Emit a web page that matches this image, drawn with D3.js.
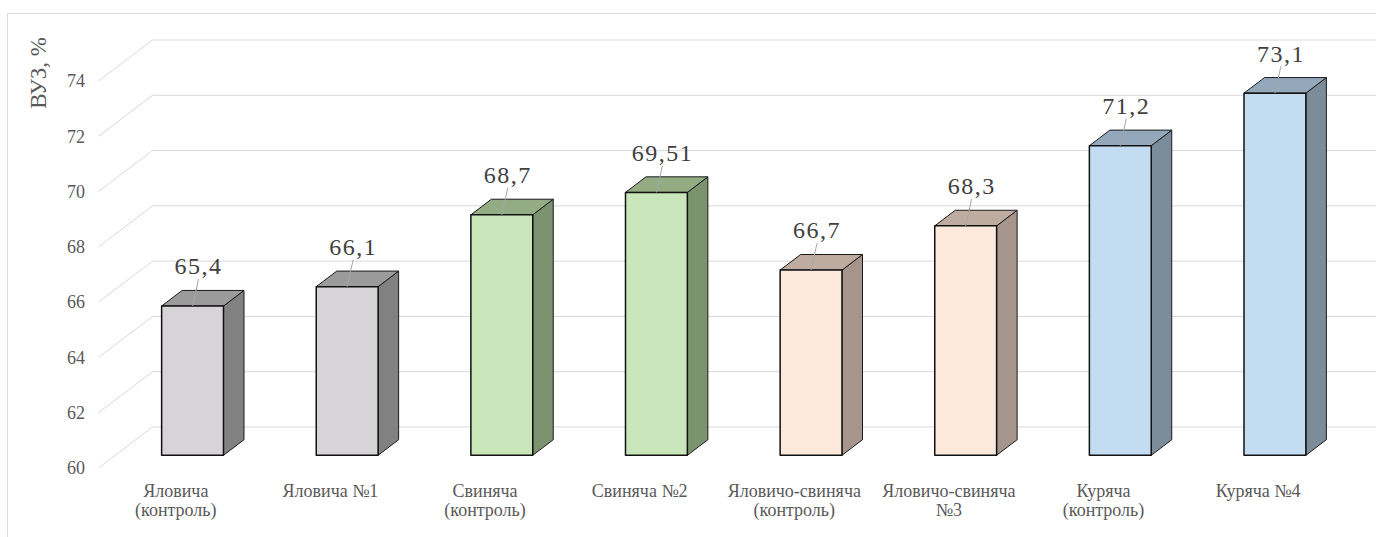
<!DOCTYPE html>
<html>
<head>
<meta charset="utf-8">
<script src="https://cdn.jsdelivr.net/npm/d3@7/dist/d3.min.js"></script>
<style>
  html, body { margin: 0; padding: 0; background: #ffffff; }
  svg { display: block; }
</style>
</head>
<body>
<svg id="chart" width="1376" height="537" font-family="Liberation Serif"></svg>
<script>
// ---- data ----
const categories = [
  ["Яловича", "(контроль)"],
  ["Яловича №1"],
  ["Свиняча", "(контроль)"],
  ["Свиняча №2"],
  ["Яловичо-свиняча", "(контроль)"],
  ["Яловичо-свиняча", "№3"],
  ["Куряча", "(контроль)"],
  ["Куряча №4"]
];
const values = [65.4, 66.1, 68.7, 69.51, 66.7, 68.3, 71.2, 73.1];
const valueLabels = ["65,4", "66,1", "68,7", "69,51", "66,7", "68,3", "71,2", "73,1"];
const groups = ["grey", "grey", "green", "green", "peach", "peach", "blue", "blue"];
const yTicks = [60, 62, 64, 66, 68, 70, 72, 74];
const axisTitle = "ВУЗ, %";

// ---- styles ----
const FONT = "Liberation Serif";
const palette = {
  grey:  { front: "#d6d4d6", top: "#9b9b9b", side: "#818181" },
  green: { front: "#c8e6b9", top: "#93ac84", side: "#7c9370" },
  peach: { front: "#fde9dc", top: "#bfaca1", side: "#a6958c" },
  blue:  { front: "#c4dcf2", top: "#94a8bb", side: "#7d8c9b" }
};

const svg = d3.select("#chart");

// front plane geometry + depth projection
const depthDX = 54, depthDY = -41;
const x = d3.scaleBand().domain(d3.range(categories.length)).range([98.5, 1335.5]).padding(0);
const y = d3.scaleLinear().domain([60, 74]).range([468, 81]);
const P = (xf, v, d) => [xf + depthDX * d, y(v) + depthDY * d];
const d0 = 0.31, d1 = 0.69;
const halfW = x.bandwidth() * 0.2;

// chart area border
svg.append("rect")
  .attr("x", 7.5).attr("y", 13.5).attr("width", 1400).attr("height", 600)
  .attr("fill", "none").attr("stroke", "#d9d9d9").attr("stroke-width", 1);

// gridlines: side wall diagonal + back wall horizontal
const grid = svg.append("g").attr("stroke", "#d9d9d9").attr("stroke-width", 1).attr("fill", "none");
yTicks.forEach(t => {
  const a = P(x.range()[0], t, 0), b = P(x.range()[0], t, 1), c = P(x.range()[1], t, 1);
  grid.append("path").attr("d", `M${a[0]},${a[1]}L${b[0]},${b[1]}L${c[0]},${c[1]}`);
});

// y axis tick labels
const yAxis = d3.axisLeft(y).tickValues(yTicks).tickSize(0).tickPadding(0).tickFormat(d3.format("d"));
const gy = svg.append("g").attr("transform", `translate(85,0)`).call(yAxis)
  .attr("font-family", FONT).attr("font-size", 18);
gy.select(".domain").remove();
gy.selectAll("text").attr("fill", "#595959").attr("font-family", FONT).attr("font-size", 18);

// axis title
svg.append("text")
  .attr("transform", "translate(46,73) rotate(-90)")
  .attr("text-anchor", "middle")
  .attr("fill", "#595959")
  .attr("font-family", FONT)
  .attr("font-size", 23)
  .text(axisTitle);

// bars
const poly = pts => "M" + pts.map(p => p.join(",")).join("L") + "Z";
const bars = svg.append("g");
values.forEach((v, i) => {
  const c = x(i) + x.bandwidth() / 2;
  const col = palette[groups[i]];
  const l = c - halfW, r = c + halfW;
  bars.append("path")
    .attr("d", poly([P(r, v, d0), P(r, v, d1), P(r, 60, d1), P(r, 60, d0)]))
    .attr("fill", col.side).attr("stroke", "#1a1a1a").attr("stroke-width", 1).attr("stroke-linejoin", "round");
  bars.append("path")
    .attr("d", poly([P(l, v, d0), P(r, v, d0), P(r, v, d1), P(l, v, d1)]))
    .attr("fill", col.top).attr("stroke", "#1a1a1a").attr("stroke-width", 1).attr("stroke-linejoin", "round");
  bars.append("path")
    .attr("d", poly([P(l, 60, d0), P(r, 60, d0), P(r, v, d0), P(l, v, d0)]))
    .attr("fill", col.front).attr("stroke", "#111").attr("stroke-width", 1.5).attr("stroke-linejoin", "round");
});

// value labels with leader lines
const labels = svg.append("g");
values.forEach((v, i) => {
  const c = x(i) + x.bandwidth() / 2;
  const top = P(c, v, d0);
  const lx = top[0] + 6, ly = top[1] - 40;
  labels.append("line")
    .attr("x1", lx).attr("y1", ly + 13)
    .attr("x2", top[0]).attr("y2", top[1])
    .attr("stroke", "#a6a6a6").attr("stroke-width", 1);
  labels.append("text")
    .attr("x", lx).attr("y", ly)
    .attr("dy", "0.35em")
    .attr("text-anchor", "middle")
    .attr("fill", "#404040")
    .attr("font-family", FONT)
    .attr("font-size", 24)
    .attr("letter-spacing", 1.5)
    .text(valueLabels[i]);
});

// category labels
const cats = svg.append("g");
categories.forEach((lines, i) => {
  const c = x(i) + x.bandwidth() / 2;
  const t = cats.append("text")
    .attr("text-anchor", "middle")
    .attr("fill", "#595959")
    .attr("font-family", FONT)
    .attr("font-size", 18);
  lines.forEach((s, k) => {
    t.append("tspan").attr("x", c).attr("y", 497 + k * 19).text(s);
  });
});
</script>
</body>
</html>
